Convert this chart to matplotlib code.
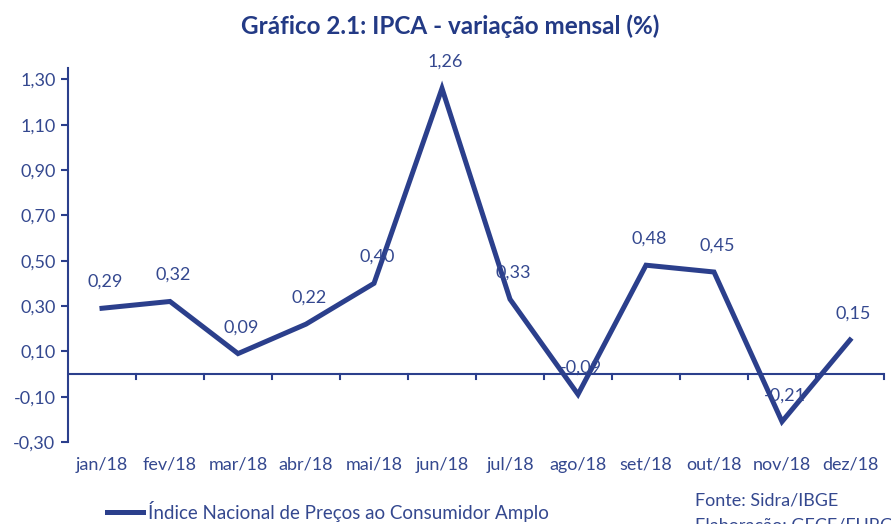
import matplotlib
matplotlib.use("Agg")
import matplotlib.pyplot as plt
from matplotlib.lines import Line2D

plt.rcParams['font.family'] = ['Lato', 'DejaVu Sans']

months = ["jan/18", "fev/18", "mar/18", "abr/18", "mai/18", "jun/18",
          "jul/18", "ago/18", "set/18", "out/18", "nov/18", "dez/18"]
ipca = [0.29, 0.32, 0.09, 0.22, 0.40, 1.26, 0.33, -0.09, 0.48, 0.45, -0.21, 0.15]
yticks = [-0.30, -0.10, 0.10, 0.30, 0.50, 0.70, 0.90, 1.10, 1.30]
series_name = "Índice Nacional de Preços ao Consumidor Amplo"
title = "Gráfico 2.1: IPCA - variação mensal (%)"

LINE = '#2B3F8C'
TEXT = '#34488F'
AX = '#2B3F8C'
FS = 13

def br(v):
    return f"{v:.2f}".replace('.', ',')

fig = plt.figure(figsize=(8.91, 5.24), dpi=100)
ax = fig.add_axes([68/891, 1-442/524, (884-68)/891, (442-68)/524])

x = list(range(len(months)))
ax.plot(x, ipca, color=LINE, lw=3.6, solid_joinstyle='miter', zorder=3)
for xi, v in zip(x, ipca):
    ax.annotate(br(v), (xi, v), xytext=(2, 19), textcoords='offset points',
                ha='center', va='center', color=TEXT, fontsize=FS, zorder=4)

ax.set_xlim(-0.5, len(months)-0.5)
ax.set_ylim(-0.30, 1.35)
ax.set_yticks(yticks)
ax.set_yticklabels([br(v) for v in yticks])
ax.tick_params(axis='y', direction='out', length=5, width=1.5, color=AX,
               labelcolor=TEXT, labelsize=FS, pad=4)

for s in ['top', 'right', 'bottom']:
    ax.spines[s].set_visible(False)
ax.spines['left'].set_color(AX)
ax.spines['left'].set_linewidth(1.5)

# zero axis with tick marks between categories
ax.axhline(0, color=AX, lw=1.5, zorder=2)
for b in range(1, len(months)+1):
    ax.plot([b-0.5, b-0.5], [0, -0.022], color=AX, lw=1.5, zorder=2, clip_on=False)

ax.set_xticks([])
for xi, m in zip(x, months):
    ax.text(xi, -0.40, m, ha='center', va='center', color=TEXT, fontsize=FS)

fig.text(0.505, 1-26/524, title, ha='center', va='center', color='#233A85',
         fontsize=17.5, fontweight='bold')

fig.add_artist(Line2D([107/891, 143/891], [1-512/524, 1-512/524], color=LINE, lw=3.6))
fig.text(148/891, 1-512/524, series_name, ha='left', va='center', color=TEXT, fontsize=FS + 0.5)
fig.text(695/891, 1-500/524, "Fonte: Sidra/IBGE", ha='left', va='center', color=TEXT, fontsize=FS)
fig.text(695/891, 1-524/524 - 0.003, "Elaboração: GECE/FURG", ha='left', va='center', color=TEXT, fontsize=FS)

fig.savefig("out.png", dpi=100)
